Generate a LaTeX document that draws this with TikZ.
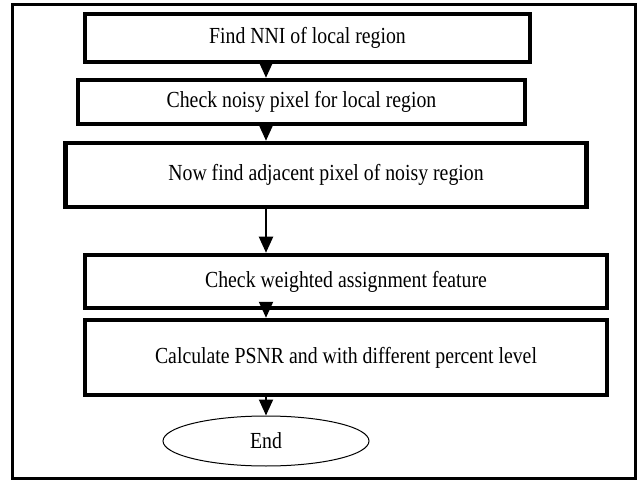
\documentclass[tikz,border=0pt]{standalone}
\usepackage{fontspec}
\setmainfont{Liberation Serif}[FakeStretch=0.86]
\usetikzlibrary{shapes.geometric,arrows.meta}
\tikzset{
  stepbox/.style={draw, line width=4.5pt, rectangle, inner sep=0pt, font=\fontsize{23}{26}\selectfont},
  endbox/.style={draw, ellipse, line width=1pt, inner sep=0pt, font=\fontsize{23}{26}\selectfont},
  flow/.style={line width=2pt, -{Triangle[length=16pt,width=14pt]}},
}
\begin{document}
\begin{tikzpicture}[x=1pt,y=-1pt]
    \useasboundingbox (0,0) rectangle (640,481);
    % Rahmen
    \draw[line width=3pt] (12,5) rectangle (635,478);

    % Schritte
    \node[stepbox, minimum width=445pt, minimum height=48pt] (nni) at (307.5,38) {Find NNI of local region};
    \node[stepbox, minimum width=447pt, minimum height=44pt] (noisy) at (301.5,102) {Check noisy pixel for local region};
    \node[stepbox, minimum width=521pt, minimum height=64pt] (adjacent) at (326,175) {Now find adjacent pixel of noisy region};
    \node[stepbox, minimum width=522pt, minimum height=53pt] (weighted) at (346,281.5) {Check weighted assignment feature};
    \node[stepbox, minimum width=522pt, minimum height=75pt] (psnr) at (346,357.5) {Calculate PSNR and with different percent level};

    % Ende
    \node[endbox, minimum width=206pt, minimum height=50pt] (stop) at (266,441) {End};

    % Pfeile
    \foreach \a/\b in {nni/noisy, noisy/adjacent, adjacent/weighted, weighted/psnr, psnr/stop}
        \draw[flow] (\a.south -| stop) -- (\b.north -| stop);
\end{tikzpicture}
\end{document}
